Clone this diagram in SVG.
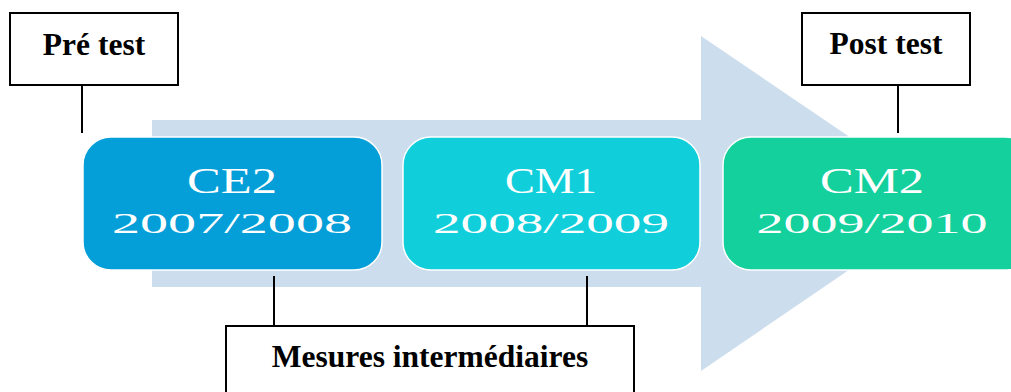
<svg xmlns="http://www.w3.org/2000/svg" width="1011" height="392" viewBox="0 0 1011 392">
  <style>
    .label { font-family: "Liberation Serif", "Times New Roman", serif; font-weight: bold; font-size: 31.5px; fill: #000; text-anchor: middle; }
    .frame { fill: #fff; stroke: #000; stroke-width: 2; }
    .stage { stroke: #fff; stroke-width: 1.5; }
    .stage-text { font-family: "Liberation Serif", "DejaVu Serif", serif; fill: #fff; text-anchor: middle; }
    .grade { font-size: 35px; }
    .year { font-size: 30px; }
    .link { stroke: #000; stroke-width: 2; fill: none; }
  </style>

  <!-- background timeline arrow -->
  <polygon points="152,120 701,120 701,36 947,203 701,371 701,287 152,287" fill="#ccdded"/>

  <g id="connectors">
    <line class="link" x1="82" y1="85" x2="82" y2="133"/>
    <line class="link" x1="898" y1="85" x2="898" y2="133"/>
    <line class="link" x1="274" y1="276" x2="274" y2="326"/>
    <line class="link" x1="587" y1="276" x2="587" y2="326"/>
  </g>

  <g id="ce2">
    <rect class="stage" x="83" y="137" width="299" height="133" rx="28" fill="#049ed8"/>
    <text class="stage-text grade" x="232" y="193" textLength="90" lengthAdjust="spacingAndGlyphs">CE2</text>
    <text class="stage-text year" x="232" y="233" textLength="240" lengthAdjust="spacingAndGlyphs">2007/2008</text>
  </g>

  <g id="cm1">
    <rect class="stage" x="403" y="137" width="297" height="133" rx="28" fill="#10cfdb"/>
    <text class="stage-text grade" x="551" y="193" textLength="92" lengthAdjust="spacingAndGlyphs">CM1</text>
    <text class="stage-text year" x="551" y="233" textLength="236" lengthAdjust="spacingAndGlyphs">2008/2009</text>
  </g>

  <g id="cm2">
    <rect class="stage" x="723" y="137" width="310" height="133" rx="28" fill="#13d09d"/>
    <text class="stage-text grade" x="872" y="193" textLength="104" lengthAdjust="spacingAndGlyphs">CM2</text>
    <text class="stage-text year" x="872" y="233" textLength="231" lengthAdjust="spacingAndGlyphs">2009/2010</text>
  </g>

  <g id="pre-test">
    <rect class="frame" x="10" y="13" width="168" height="72"/>
    <text class="label" x="94" y="55">Pré test</text>
  </g>

  <g id="post-test">
    <rect class="frame" x="802" y="13" width="168" height="72"/>
    <text class="label" x="886" y="54">Post test</text>
  </g>

  <g id="mesures">
    <rect class="frame" x="226" y="326" width="408" height="80"/>
    <text class="label" x="430" y="367">Mesures intermédiaires</text>
  </g>
</svg>
